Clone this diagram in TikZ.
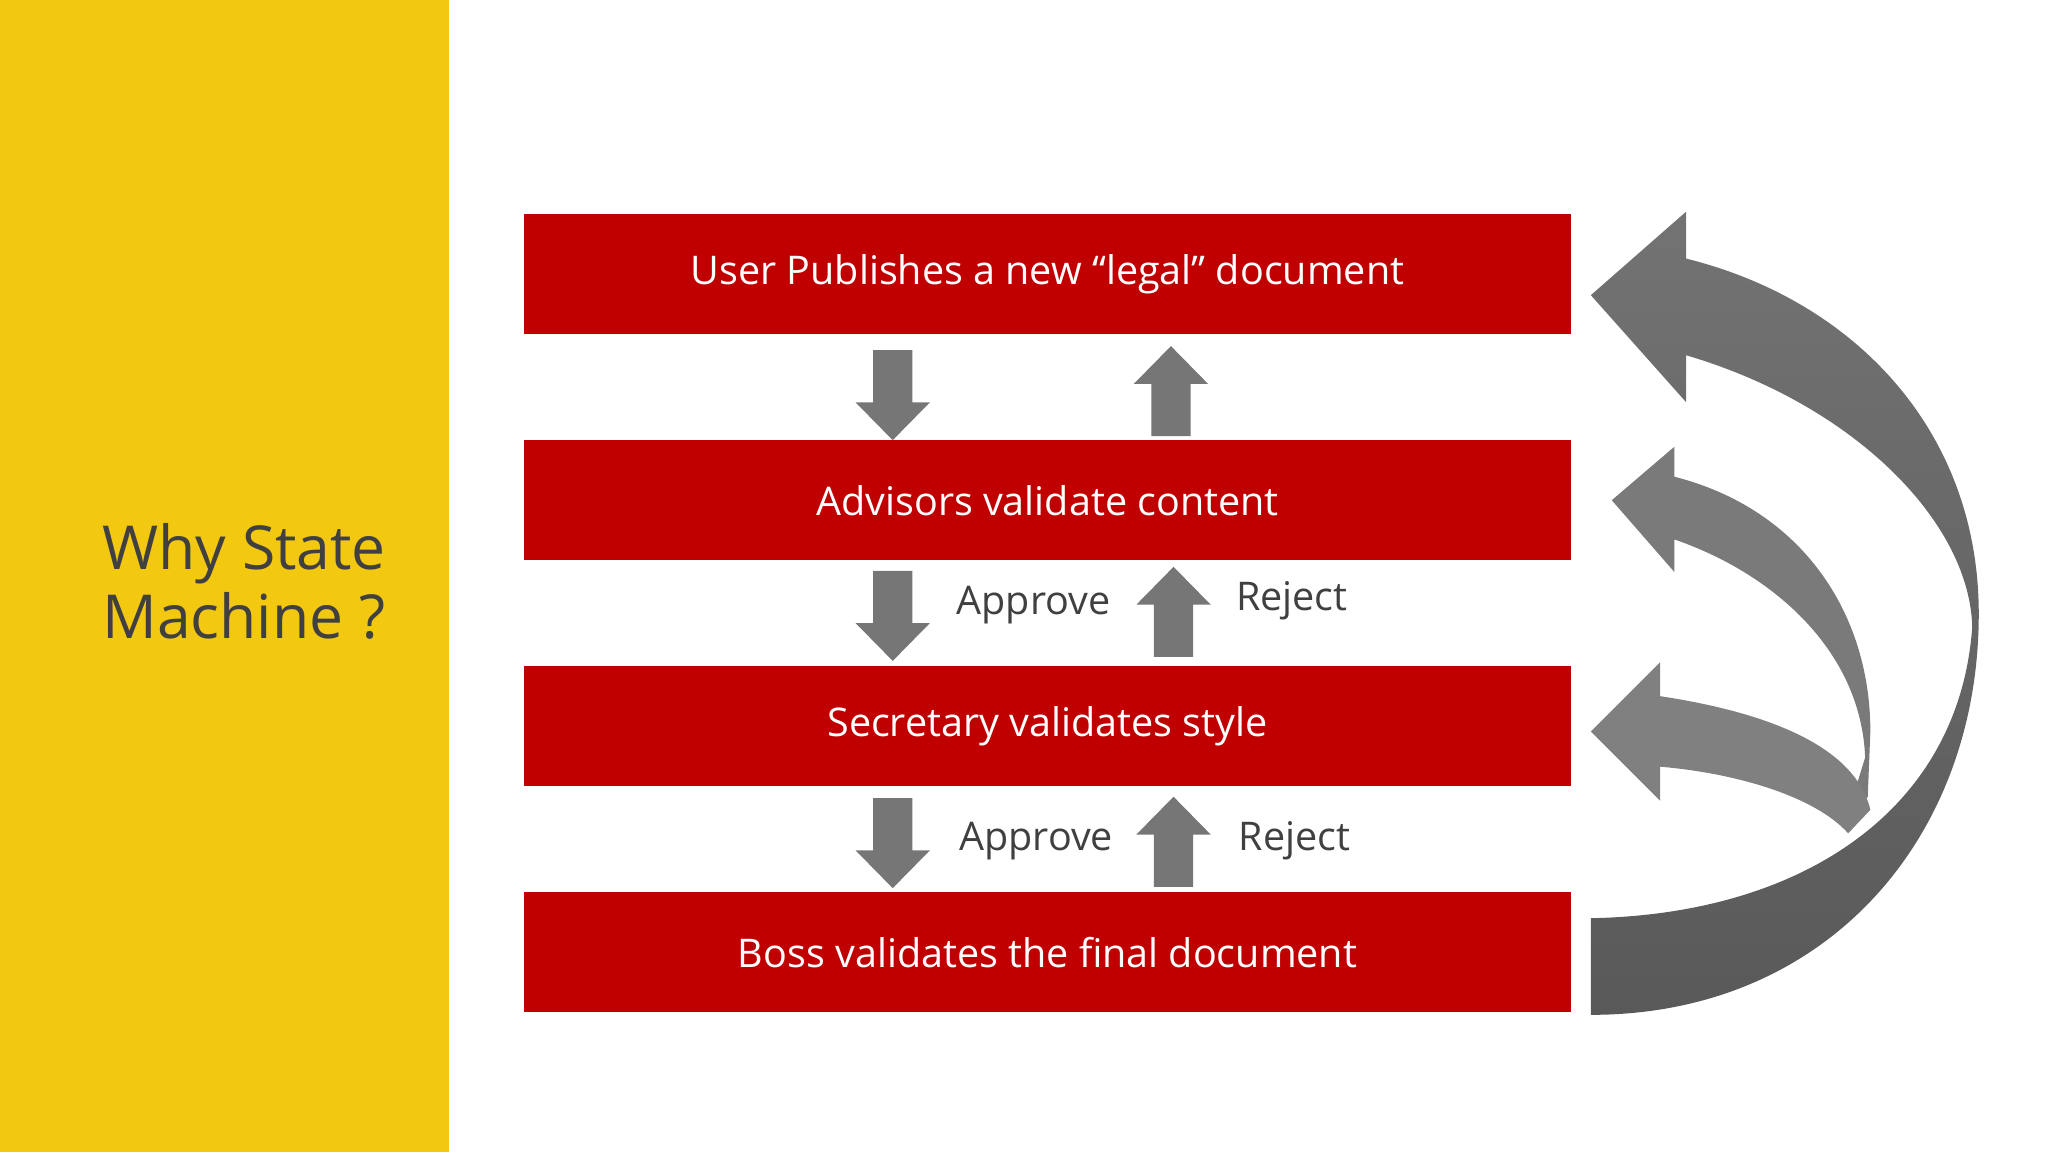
\documentclass[tikz,border=0pt]{standalone}
\usepackage{fontspec}
\setmainfont{Open Sans}
\definecolor{yellowbg}{RGB}{242,200,17}
\definecolor{rbox}{HTML}{C00000}
\definecolor{garrow}{HTML}{767676}
\definecolor{ttl}{HTML}{404040}
\begin{document}
\begin{tikzpicture}[x=0.01cm,y=-0.01cm,
  blk/.style={fill=garrow},
  lbl/.style={text=ttl,font=\fontsize{8.6}{11}\selectfont,anchor=west}]
\useasboundingbox (0,0) rectangle (1568,882);
\fill[white] (0,0) rectangle (1568,882);
\fill[yellowbg] (0,0) rectangle (344,882);
\node[text=ttl,align=left,anchor=west,font=\fontsize{13.2}{15}\selectfont] (title) at (66,445) {Why State\\Machine ?};
\foreach \n/\y/\t in {a/210/{User Publishes a new “legal” document},b/383/{Advisors validate content},c/556/{Secretary validates style},d/729/{Boss validates the final document}}{
  \fill[rbox] (401,\y-46) rectangle (1203,\y+46);
  \node[text=white,font=\fontsize{8.6}{11}\selectfont] (\n) at (802,\y) {\t};
}
% down arrows
\foreach \x/\y in {683.5/268,683.5/437,683.5/611}{
  \fill[blk] (\x-15,\y) -- (\x+15,\y) -- (\x+15,\y+40) -- (\x+28.5,\y+40) -- (\x,\y+69) -- (\x-28.5,\y+40) -- (\x-15,\y+40) -- cycle;}
% up arrows
\foreach \x/\y in {896.5/334,898.5/503,898.5/679}{
  \fill[blk] (\x-15,\y) -- (\x+15,\y) -- (\x+15,\y-40) -- (\x+28.5,\y-40) -- (\x,\y-69) -- (\x-28.5,\y-40) -- (\x-15,\y-40) -- cycle;}
\node[lbl] (ap1) at (720,463) {Approve};
\node[lbl] (rj1) at (934,460) {Reject};
\node[lbl] (ap2) at (722,644) {Approve};
\node[lbl] (rj2) at (936,644) {Reject};
% big curved arrow
\shade[left color=black!55,right color=black!65,shading angle=0]
 (1218,777) .. controls (1400,777) and (1515,640) .. (1515,470)
 .. controls (1515,330) and (1420,230) .. (1291,198)
 -- (1291,162) -- (1218,226) -- (1291,308) -- (1291,272)
 .. controls (1420,310) and (1508,400) .. (1510,480)
 .. controls (1500,620) and (1380,700) .. (1218,703) -- cycle;
% middle
\fill[black!52]
 (1282,365) .. controls (1380,390) and (1432,470) .. (1432,560)
 -- (1430,610) -- (1412,632) -- (1428,580)
 .. controls (1425,500) and (1360,440) .. (1282,413)
 -- (1282,438) -- (1234,383) -- (1282,342) -- cycle;
% small
\fill[black!50]
 (1271,533) .. controls (1350,545) and (1420,570) .. (1432,620)
 -- (1415,638) .. controls (1390,610) and (1330,592) .. (1271,587)
 -- (1271,613) -- (1218,560) -- (1271,507) -- cycle;
\end{tikzpicture}
\end{document}
